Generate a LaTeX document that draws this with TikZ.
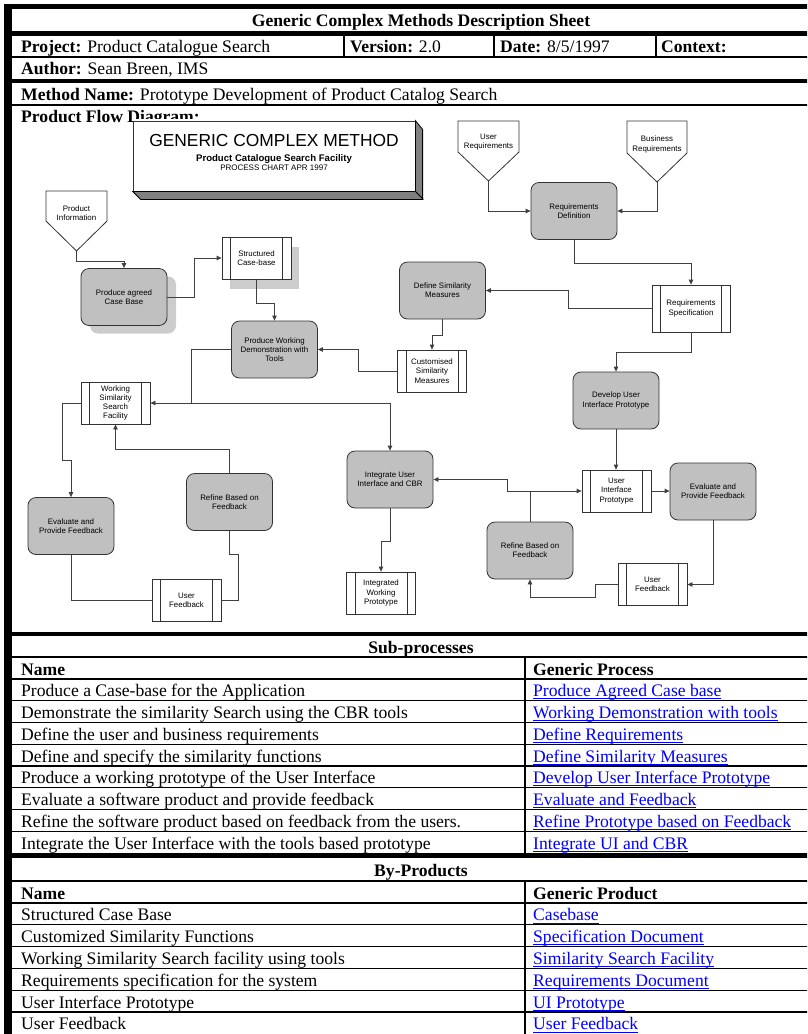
\documentclass[tikz,border=0pt]{standalone}
\usepackage{fontspec}
\setmainfont{Liberation Serif}
\newfontfamily\diagfont{Liberation Sans}
\usetikzlibrary{arrows.meta,shadows}
\definecolor{linkblue}{RGB}{0,0,255}
\definecolor{boxgray}{RGB}{192,192,192}
\newcommand\tabfont{\fontsize{17.6}{20}\selectfont}
\newcommand\boxfont{\diagfont\fontsize{7.9}{9.2}\selectfont}
\newcommand\lnk[1]{\textcolor{linkblue}{\setbox0\hbox{#1}\rlap{\rule[-2.6pt]{\wd0}{0.9pt}}\box0}}

\tikzset{
  stepbox/.style={draw=black!80, fill=boxgray, rounded corners=8pt, line width=0.8pt,
    minimum width=86pt, minimum height=57pt, align=center, font=\boxfont, inner sep=1pt},
  prodbox/.style={draw=black!80, fill=white, line width=0.8pt,
    minimum width=69pt, minimum height=42pt, align=center, font=\boxfont, inner sep=1pt,
    path picture={\draw[black!80, line width=0.8pt]
      ([xshift=8.5pt]path picture bounding box.north west) -- ([xshift=8.5pt]path picture bounding box.south west)
      ([xshift=-8.5pt]path picture bounding box.north east) -- ([xshift=-8.5pt]path picture bounding box.south east);}},
  softshadow/.style={drop shadow={shadow xshift=#1, shadow yshift=-8pt, fill=black!20, opacity=1}},
  conn/.style={draw=black!75, line width=0.8pt},
  connarr/.style={conn, -{Triangle[length=5pt,width=4.5pt]}},
  inlet/.style={draw=black!80, fill=white, line width=0.8pt},
  thinrule/.style={line width=1.1pt},
  cell/.style={anchor=base west, inner sep=0pt, font=\tabfont},
  headcell/.style={anchor=base, inner sep=0pt, font=\tabfont\bfseries},
}

\begin{document}
\begin{tikzpicture}[x=1pt, y=-1pt]
    \useasboundingbox (0,0) rectangle (807,1034);
    \clip (0,0) rectangle (807,1034);

    % --- frame of the sheet ---
    \fill (4,4) rectangle (12,1034);
    \foreach \ya/\yb in {4/9, 31/36, 79/83, 632/636, 853/858}
        \fill (4,\ya) rectangle (830,\yb);
    \foreach \y in {57,105,657,679,700.75,722.5,744.25,766,787.75,809.5,831.25,881,903,924.8,946.6,968.4,990.2,1012}
        \draw[thinrule] (12,\y) -- (830,\y);
    \foreach \x in {344,494,656} \draw[thinrule] (\x,36) -- (\x,57);
    \draw[thinrule] (525,657) -- (525,853) (525,881) -- (525,1034);

    % --- header ---
    \node[headcell] (sheet) at (421,26) {Generic Complex Methods Description Sheet};
    \node[cell] (project) at (21,52) {\textbf{Project:} Product Catalogue Search};
    \node[cell] (version) at (350,52) {\textbf{Version:} 2.0};
    \node[cell] (date) at (500,52) {\textbf{Date:} 8/5/1997};
    \node[cell] (context) at (661,52) {\textbf{Context:}};
    \node[cell] (author) at (21,74) {\textbf{Author:} Sean Breen, IMS};
    \node[cell] (method) at (21,100) {\textbf{Method Name:} Prototype Development of Product Catalog Search};
    \node[cell] (flow) at (21,122) {\textbf{Product Flow Diagram:}};

    % --- title block of the chart ---
    \fill[white] (133,118.5) rectangle (423,121);
    \node[draw=black!80, fill=white, line width=0.8pt, minimum width=282pt, minimum height=70pt] (gcm) at (274,156) {};
    \filldraw[fill=black!50, draw=black, line width=0.8pt] (gcm.south west) -- ++(8,8) -- ++(282,0) -- ++(0,-70)
        -- (gcm.north east) -- (gcm.south east) -- cycle;
    \draw[line width=0.8pt] (gcm.south east) -- ++(8,8);
    \node[anchor=base, font={\diagfont\fontsize{17.4}{20}\selectfont}] (gcmhead) at (274,146) {GENERIC COMPLEX METHOD};
    \node[anchor=base, font={\diagfont\bfseries\fontsize{9.6}{11}\selectfont}] (gcmsub) at (274,161) {Product Catalogue Search Facility};
    \node[anchor=base, font={\diagfont\fontsize{8}{9}\selectfont}] (gcmdate) at (274,170.5) {PROCESS CHART APR 1997};

    % --- inputs ---
    \draw[inlet] (46,191) -- (107,191) -- (107,221) -- (76.5,251) -- (46,221) -- cycle;
    \node[font=\boxfont, align=center] (prodinfo) at (76.5,213.5) {Product\\Information};
    \coordinate (prodinfo-tip) at (76.5,251);
    \draw[inlet] (458,121) -- (519,121) -- (519,152) -- (488.5,181) -- (458,152) -- cycle;
    \node[font=\boxfont, align=center] (userreq) at (488.5,142) {User\\Requirements};
    \coordinate (userreq-tip) at (488.5,181);
    \draw[inlet] (627,121) -- (687,121) -- (687,153) -- (657,182) -- (627,153) -- cycle;
    \node[font=\boxfont, align=center] (busreq) at (657,144.5) {Business\\Requirements};
    \coordinate (busreq-tip) at (657,182);

    % --- processes ---
    \node[stepbox, softshadow=9pt] (agreed) at (124,297) {Produce agreed\\Case Base};
    \node[stepbox] (working) at (274.5,349.5) {Produce Working\\Demonstration with\\Tools};
    \node[stepbox] (defsim) at (442.5,290.5) {Define Similarity\\Measures};
    \node[stepbox] (reqdef) at (574,211) {Requirements\\Definition};
    \node[stepbox] (develop) at (616,400.5) {Develop User\\Interface Prototype};
    \node[stepbox] (evalL) at (71,526) {Evaluate and\\Provide Feedback};
    \node[stepbox] (refineL) at (229.5,502) {Refine Based on\\Feedback};
    \node[stepbox] (integ) at (390,479.5) {Integrate User\\Interface and CBR};
    \node[stepbox] (evalR) at (713,491.5) {Evaluate and\\Provide Feedback};
    \node[stepbox] (refineR) at (530,550.5) {Refine Based on\\Feedback};

    % --- products ---
    \node[prodbox, drop shadow={shadow xshift=8pt, shadow yshift=-10pt, fill=black!20, opacity=1}] (structured) at (256.5,258) {Structured\\Case-base};
    \node[prodbox] (customised) at (432,371) {Customised\\Similarity\\Measures};
    \node[prodbox] (wssf) at (115.5,403) {Working\\Similarity\\Search\\Facility};
    \node[prodbox] (ufL) at (186.5,600) {User\\Feedback};
    \node[prodbox] (integrated) at (381,593) {Integrated\\Working\\Prototype};
    \node[prodbox, minimum width=78pt, minimum height=47pt] (reqspec) at (691,308.5) {Requirements\\Specification};
    \node[prodbox] (uip) at (616.5,491) {User\\Interface\\Prototype};
    \node[prodbox] (ufR) at (652.5,584.5) {User\\Feedback};

    % --- flows, left part ---
    \draw[connarr] (prodinfo-tip) -- ++(0,10) -| (agreed.north);
    \draw[connarr] (agreed.east) -- ++(27,0) |- (structured.west);
    \draw[connarr] (structured.south) -- ++(0,24) -| (working.north);
    \draw[connarr] (customised.west) -- ++(-39,0) |- (working.east);
    \coordinate (split) at (191,403);
    \draw[conn] (working.west) -| (split);
    \draw[connarr] (split) -- (wssf.east);
    \draw[connarr] (split) -| (integ.north);
    \draw[connarr] (wssf.west) -- ++(-18,0) -- ++(0,57) -| (evalL.north);
    \draw[conn] (evalL.south) |- (ufL.west);
    \draw[conn] (ufL.east) -- ++(17,0) -- ++(0,-46) -| (refineL.south);
    \draw[connarr] (refineL.north) -- ++(0,-24) -| (wssf.south);
    \draw[connarr] (integ.south) -- ++(0,33) -| (integrated.north);

    % --- flows, right part ---
    \draw[connarr] (userreq-tip) |- (reqdef.west);
    \draw[connarr] (busreq-tip) |- (reqdef.east);
    \draw[connarr] (reqdef.south) -- ++(0,23) -| (reqspec.north);
    \draw[connarr] (reqspec.west) -- ++(-83,0) |- (defsim.east);
    \draw[connarr] (defsim.south) -- ++(0,16) -| (customised.north);
    \draw[connarr] (reqspec.south) -- ++(0,20) -| (develop.north);
    \draw[connarr] (develop.south) -- (develop.south |- uip.north);
    \draw[connarr] (uip.east) -- (uip.east -| evalR.west);
    \draw[connarr] (evalR.south) |- (ufR.east);
    \draw[connarr] (ufR.west) -- ++(-22,0) -- ++(0,12.5) -| (refineR.south);
    \draw[connarr] (refineR.north) |- (uip.west);
    \draw[connarr] (refineR.north |- uip.west) -- ++(-23,0) |- (integ.east);

    % --- sub-processes ---
    \node[headcell] (subhead) at (421,653) {Sub-processes};
    \node[cell] (subname) at (21,675) {\textbf{Name}};
    \node[cell] (subgen) at (533,675) {\textbf{Generic Process}};
    \foreach \what/\proc [count=\i] in {
        Produce a Case-base for the Application/Produce Agreed Case base,
        Demonstrate the similarity Search using the CBR tools/Working Demonstration with tools,
        Define the user and business requirements/Define Requirements,
        Define and specify the similarity functions/Define Similarity Measures,
        Produce a working prototype of the User Interface/Develop User Interface Prototype,
        Evaluate a software product and provide feedback/Evaluate and Feedback,
        Refine the software product based on feedback from the users./Refine Prototype based on Feedback,
        Integrate the User Interface with the tools based prototype/Integrate UI and CBR}{
        \node[cell] (sub\i) at (21,675+21.75*\i) {\what};
        \node[cell] (subg\i) at (533,675+21.75*\i) {\lnk{\proc}};
    }

    % --- by-products ---
    \node[headcell] (byhead) at (421,876) {By-Products};
    \node[cell] (byname) at (21,899) {\textbf{Name}};
    \node[cell] (bygen) at (533,899) {\textbf{Generic Product}};
    \foreach \what/\gen [count=\j] in {
        Structured Case Base/Casebase,
        Customized Similarity Functions/Specification Document,
        Working Similarity Search facility using tools/Similarity Search Facility,
        Requirements specification for the system/Requirements Document,
        User Interface Prototype/UI Prototype,
        User Feedback/User Feedback}{
        \node[cell] (by\j) at (21,899+21.8*\j) {\what};
        \node[cell] (byg\j) at (533,899+21.8*\j) {\lnk{\gen}};
    }
\end{tikzpicture}
\end{document}
